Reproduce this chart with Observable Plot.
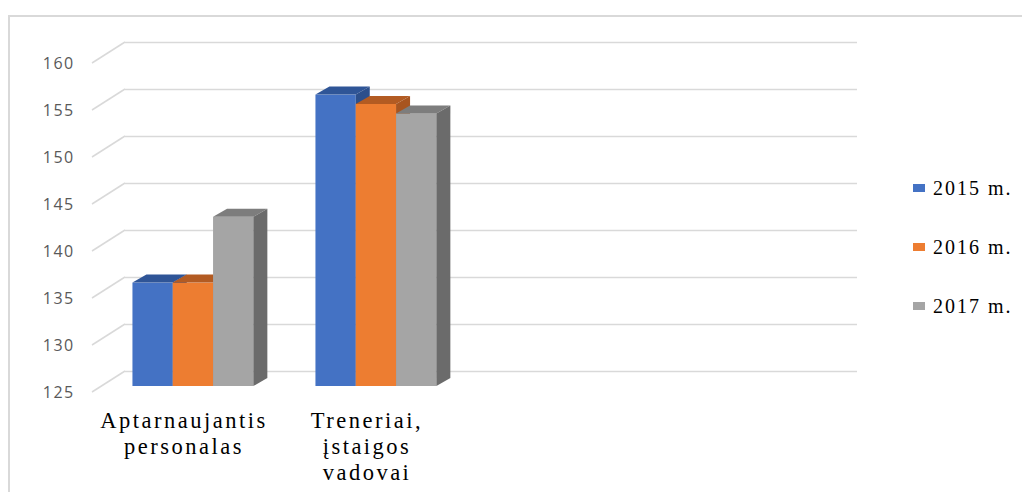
<!DOCTYPE html>
<html>
<head>
<meta charset="utf-8">
<script src="https://cdn.jsdelivr.net/npm/d3@7"></script>
<script src="https://cdn.jsdelivr.net/npm/@observablehq/plot@0.6"></script>
<style>
  html, body { margin: 0; padding: 0; background: #fff; overflow: hidden; }
  #wrap { position: relative; width: 1022px; height: 492px; overflow: hidden; }
  #frame { position: absolute; left: 8px; top: 15px; width: 1040px; height: 520px;
           border: 2px solid #d9d9d9; box-sizing: border-box; }
  #chart { position: absolute; left: 0; top: 0; }
  #chart svg { overflow: visible; }
  g[aria-label="x-axis tick label"] { letter-spacing: 2.5px; }
  g[aria-label="y-axis tick label"] { letter-spacing: 1.4px; }
  .item { position: absolute; left: 913px; display: flex; align-items: center; white-space: nowrap;
          font-family: "Liberation Serif", "Times New Roman", serif; font-size: 20px;
          letter-spacing: 2px; color: #000; height: 24px; }
  .sw { width: 12px; height: 8px; margin-right: 8px; flex: none; }
</style>
</head>
<body>
<div id="wrap">
  <div id="frame"></div>
  <div id="chart"></div>
  <div id="legend"></div>
</div>
<script>
// Staff categories on the x axis; the last two slots are empty positions on the floor.
const categories = ["Aptarnaujantis\npersonalas", "Treneriai,\nįstaigos\nvadovai"];
const blankSlots = ["", " "];

// Series (years) and their values per category.
const seriesNames = ["2015 m.", "2016 m.", "2017 m."];
const values2015 = [136, 156];
const values2016 = [136, 155];
const values2017 = [143, 154];

// Y axis tick values.
const yTicks = [125, 130, 135, 140, 145, 150, 155, 160];

// Face colours for each series: front, top, right side.
const frontColors = ["#4472c4", "#ed7d31", "#a5a5a5"];
const topColors = ["#2f5597", "#b35b22", "#7d7d7d"];
const sideColors = ["#2c4f8c", "#a85520", "#6b6b6b"];

const seriesValues = [values2015, values2016, values2017];
const rows = categories.flatMap((category, j) =>
  seriesNames.map((series, i) => ({category, series, i, value: seriesValues[i][j]}))
);

// Layout of the pseudo-3D chart.
const W = 1022, H = 492;
const marginLeft = 92, marginRight = 198, marginTop = 63, marginBottom = 100;
const base = yTicks[0];
const bandW = (W - marginLeft - marginRight) / (categories.length + blankSlots.length);
const barW = 40.3;
const groupW = barW * seriesNames.length;
const wall = {dx: 33, dy: -21};     // offset of the back wall from the front plane
const barPlane = {dx: 9.4, dy: -6}; // bars stand slightly behind the front plane
const depth = {dx: 14, dy: -8};     // visible depth of each bar

const insetL = i => (bandW - groupW) / 2 + i * barW;
const insetR = i => bandW - insetL(i) - barW;

// Diagonal lines joining the tick labels to the back wall.
const wallDiagonals = (index, {y}, values, dims) => {
  const g = d3.create("svg:g").attr("stroke", "#d9d9d9").attr("stroke-width", 1.5);
  for (const t of yTicks) {
    g.append("line")
      .attr("x1", dims.marginLeft).attr("y1", y(t))
      .attr("x2", dims.marginLeft + wall.dx).attr("y2", y(t) + wall.dy);
  }
  return g.node();
};

// Top and right side faces of one series' bars.
const barSolids = i => (index, {x, y}) => {
  const g = d3.create("svg:g");
  for (const r of rows.filter(r => r.i === i)) {
    const xl = x(r.category) + insetL(i) + barPlane.dx;
    const xr = xl + barW;
    const yt = y(r.value) + barPlane.dy;
    const yb = y(base) + barPlane.dy;
    g.append("path")
      .attr("fill", topColors[i])
      .attr("d", `M${xl},${yt}L${xl + depth.dx},${yt + depth.dy}L${xr + depth.dx},${yt + depth.dy}L${xr},${yt}Z`);
    g.append("path")
      .attr("fill", sideColors[i])
      .attr("d", `M${xr},${yt}L${xr + depth.dx},${yt + depth.dy}L${xr + depth.dx},${yb + depth.dy}L${xr},${yb}Z`);
  }
  return g.node();
};

const seriesMarks = seriesNames.flatMap((s, i) => [
  Plot.barY(rows.filter(r => r.i === i), {
    x: "category", y1: () => base, y2: "value",
    fill: frontColors[i], insetLeft: insetL(i), insetRight: insetR(i),
    dx: barPlane.dx, dy: barPlane.dy
  }),
  barSolids(i)
]);

const chart = Plot.plot({
  width: W, height: H,
  marginLeft, marginRight, marginTop, marginBottom,
  style: {background: "transparent", overflow: "visible"},
  x: {type: "band", domain: [...categories, ...blankSlots], padding: 0},
  y: {domain: [base, yTicks[yTicks.length - 1]]},
  marks: [
    Plot.ruleY(yTicks, {dx: wall.dx, dy: wall.dy, stroke: "#d9d9d9", strokeWidth: 1.5}),
    wallDiagonals,
    ...seriesMarks,
    Plot.axisY({ticks: yTicks, tickSize: 0, tickPadding: 18, label: null,
                fontSize: 16, fontFamily: "Open Sans", fill: "#595959"}),
    Plot.axisX({tickSize: 0, tickPadding: 17, label: null, lineHeight: 1.16,
                fontSize: 22.5, fontFamily: "Liberation Serif", fill: "#000"})
  ]
});
document.getElementById("chart").append(chart);

// Legend on the right.
const legend = document.getElementById("legend");
const legendCenters = [188, 247, 306];
seriesNames.forEach((s, i) => {
  const item = document.createElement("div");
  item.className = "item";
  item.style.top = (legendCenters[i] - 12) + "px";
  const sw = document.createElement("span");
  sw.className = "sw";
  sw.style.background = frontColors[i];
  item.append(sw, document.createTextNode(s));
  legend.append(item);
});
</script>
</body>
</html>
